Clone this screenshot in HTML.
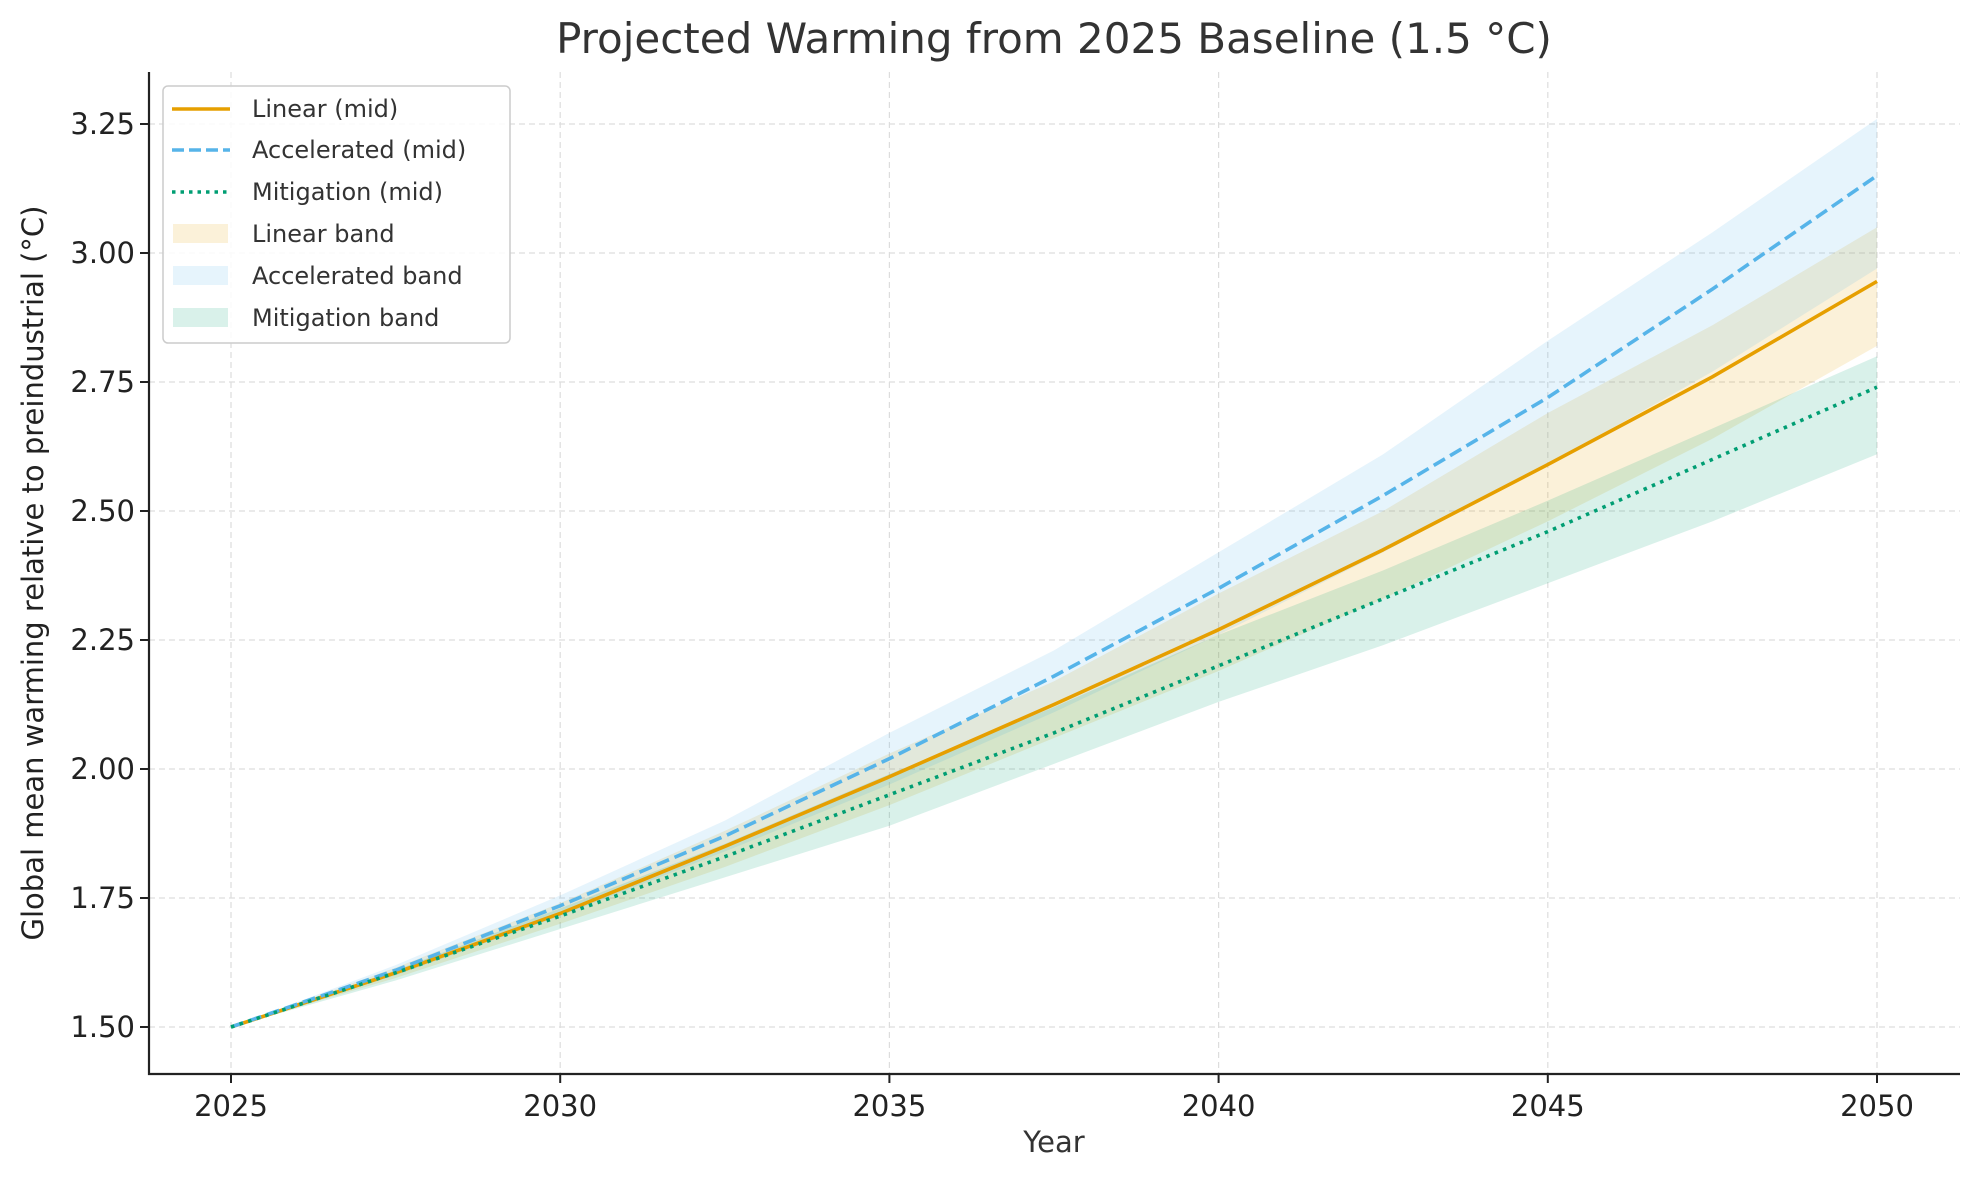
<!DOCTYPE html>
<html><head><meta charset="utf-8"><style>
html,body{margin:0;padding:0;background:#fff;}
svg{display:block;font-family:"DejaVu Sans","Liberation Sans",sans-serif;}
</style></head><body>
<svg id="chart" width="1979" height="1180" viewBox="0 0 1979 1180">
<text x="1054" y="53" font-size="42" fill="#333" text-anchor="middle">Projected Warming from 2025 Baseline (1.5 °C)</text>
<g id="grid"></g>
<g id="bands"></g>
<g id="lines"></g>
<g id="axes"></g>
<text x="1054" y="1152" font-size="29" fill="#333" text-anchor="middle">Year</text>
<text transform="translate(43,573) rotate(-90)" font-size="29" fill="#222" text-anchor="middle">Global mean warming relative to preindustrial (°C)</text>
<g>
<rect x="163" y="86" width="347" height="257" rx="5" fill="#fff" fill-opacity="0.85" stroke="#ccc" stroke-width="1.5"/>
<g><line x1="172" y1="109" x2="230" y2="109" stroke="#E69F00" stroke-width="3.5"/><text x="252" y="117" font-size="24" fill="#333">Linear (mid)</text></g>
<g><line x1="172" y1="150" x2="230" y2="150" stroke="#56B4E9" stroke-width="3.5" stroke-dasharray="12,5"/><text x="252" y="158" font-size="24" fill="#333">Accelerated (mid)</text></g>
<g><line x1="172" y1="192" x2="230" y2="192" stroke="#009E73" stroke-width="3.5" stroke-dasharray="3.5,5"/><text x="252" y="200" font-size="24" fill="#333">Mitigation (mid)</text></g>
<g><rect x="173" y="224" width="55" height="19" fill="#E69F00" fill-opacity="0.15"/><text x="252" y="242" font-size="24" fill="#333">Linear band</text></g>
<g><rect x="173" y="266" width="55" height="19" fill="#56B4E9" fill-opacity="0.15"/><text x="252" y="284" font-size="24" fill="#333">Accelerated band</text></g>
<g><rect x="173" y="308" width="55" height="19" fill="#009E73" fill-opacity="0.15"/><text x="252" y="326" font-size="24" fill="#333">Mitigation band</text></g>
</g>
</svg>
<script>
const years = [2025, 2027.5, 2030, 2032.5, 2035, 2037.5, 2040, 2042.5, 2045, 2047.5, 2050];
const linearMid = [1.5, 1.605, 1.72, 1.85, 1.985, 2.125, 2.27, 2.425, 2.59, 2.76, 2.945];
const accelMid = [1.5, 1.61, 1.735, 1.87, 2.02, 2.18, 2.35, 2.53, 2.72, 2.93, 3.15];
const mitigMid = [1.5, 1.605, 1.715, 1.83, 1.95, 2.07, 2.20, 2.33, 2.46, 2.60, 2.74];
const linearLo = [1.5, 1.595, 1.70, 1.81, 1.93, 2.06, 2.19, 2.33, 2.48, 2.64, 2.82];
const linearHi = [1.5, 1.615, 1.74, 1.88, 2.03, 2.17, 2.34, 2.50, 2.69, 2.86, 3.05];
const accelLo = [1.5, 1.60, 1.715, 1.84, 1.97, 2.11, 2.26, 2.42, 2.59, 2.77, 2.97];
const accelHi = [1.5, 1.62, 1.755, 1.90, 2.07, 2.23, 2.42, 2.61, 2.83, 3.04, 3.26];
const mitigLo = [1.5, 1.59, 1.69, 1.79, 1.89, 2.01, 2.13, 2.24, 2.36, 2.48, 2.61];
const mitigHi = [1.5, 1.61, 1.73, 1.855, 1.99, 2.12, 2.26, 2.385, 2.52, 2.66, 2.80];
const xTicks = [2025, 2030, 2035, 2040, 2045, 2050];
const yTicks = [1.5, 1.75, 2.0, 2.25, 2.5, 2.75, 3.0, 3.25];

const NS = "http://www.w3.org/2000/svg";
const L = 149, R = 1960, T = 72, B = 1074;
function xs(v){ return 231 + (v - 2025) * (1877 - 231) / 25; }
function ys(v){ return 1027 - (v - 1.5) * (1027 - 124) / 1.75; }
function mk(tag, attrs, parent){ const e = document.createElementNS(NS, tag); for (const k in attrs) e.setAttribute(k, attrs[k]); parent.appendChild(e); return e; }

const grid = document.getElementById('grid');
const axes = document.getElementById('axes');
xTicks.forEach(t => {
  const g = mk('line', {x1: xs(t), x2: xs(t), y1: T, y2: B, stroke: '#ddd', 'stroke-width': 1.2, 'stroke-dasharray': '6,4'}, grid);
  
  
  const tk = mk('line', {x1: xs(t), x2: xs(t), y1: B, y2: B + 9, stroke: '#222', 'stroke-width': 2}, axes);
  
  
  const tx = mk('text', {x: xs(t), y: B + 42, 'font-size': 29, fill: '#222', 'text-anchor': 'middle'}, axes);
  tx.textContent = t;
  
  
});
yTicks.forEach(t => {
  const g = mk('line', {x1: L, x2: R, y1: ys(t), y2: ys(t), stroke: '#ddd', 'stroke-width': 1.2, 'stroke-dasharray': '6,4'}, grid);
  
  
  const tk = mk('line', {x1: L - 9, x2: L, y1: ys(t), y2: ys(t), stroke: '#222', 'stroke-width': 2}, axes);
  
  
  const tx = mk('text', {x: L - 14, y: ys(t) + 10, 'font-size': 29, fill: '#222', 'text-anchor': 'end'}, axes);
  tx.textContent = t.toFixed(2);
  
  
});
const ax = mk('path', {d: `M${L},${T} L${L},${B} L${R},${B}`, fill: 'none', stroke: '#222', 'stroke-width': 2.2}, axes);



const bands = document.getElementById('bands');
function band(lo, hi, color, name){
  let d = years.map((y,i) => (i ? 'L' : 'M') + xs(y) + ',' + ys(hi[i])).join(' ');
  for (let i = years.length - 1; i >= 0; i--) d += ' L' + xs(years[i]) + ',' + ys(lo[i]);
  const p = mk('path', {d: d + ' Z', fill: color, 'fill-opacity': 0.15, stroke: 'none'}, bands);
  
  
}
band(linearLo, linearHi, '#E69F00', 'linear-band');
band(accelLo, accelHi, '#56B4E9', 'accelerated-band');
band(mitigLo, mitigHi, '#009E73', 'mitigation-band');

const lines = document.getElementById('lines');
function line(vals, color, dash, name){
  const pts = years.map((y,i) => xs(y) + ',' + ys(vals[i])).join(' ');
  const a = {points: pts, fill: 'none', stroke: color, 'stroke-width': 3.6, 'stroke-linejoin': 'round'};
  if (dash) a['stroke-dasharray'] = dash;
  const p = mk('polyline', a, lines);
  
  
}
line(linearMid, '#E69F00', null, 'linear-mid-line');
line(accelMid, '#56B4E9', '13,6', 'accelerated-mid-line');
line(mitigMid, '#009E73', '3.5,5.5', 'mitigation-mid-line');
</script>
</body></html>
